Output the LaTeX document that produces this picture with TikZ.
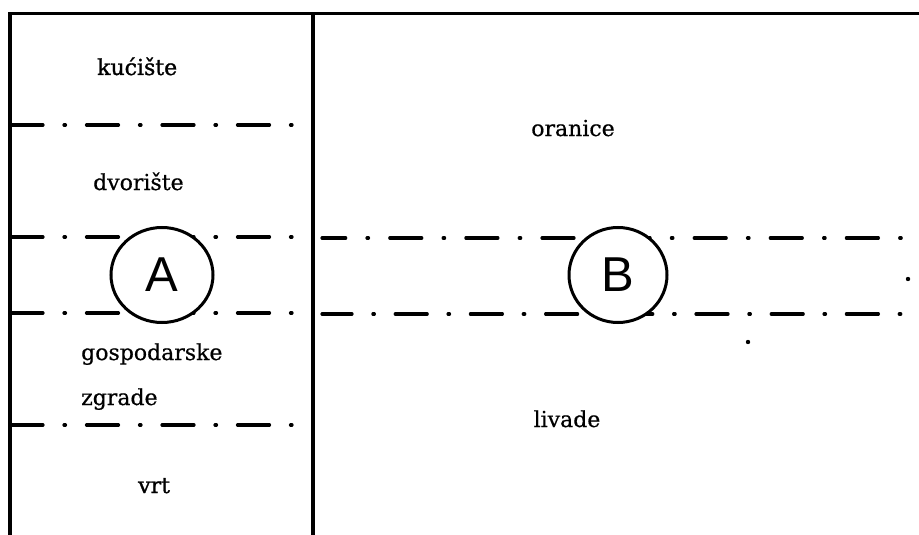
\documentclass[tikz,border=0pt]{standalone}
\usepackage{fontspec}
\setmainfont{DejaVu Serif}
\newfontfamily\lblfont[FakeBold=0.6]{DejaVu Serif}
\newfontfamily\lblheavy[FakeBold=1.3]{DejaVu Serif}
\newfontfamily\letterfont{Liberation Sans}
\usetikzlibrary{shapes.geometric}
\begin{document}
\begin{tikzpicture}[x=1pt,y=-1pt,
  frame/.style={line width=3.4pt},
  zone/.style={line width=3.2pt, line cap=round, dash pattern=on 32pt off 21pt on 1.5pt off 21pt},
  lbl/.style={anchor=base west, inner sep=0pt, font=\lblfont\fontsize{22}{26}\selectfont},
  heavy/.style={font=\lblheavy\fontsize{22}{26}\selectfont},
  ring/.style={draw, ellipse, line width=3pt, fill=white, inner sep=0pt,
    font=\letterfont\fontsize{49}{50}\selectfont}]
\useasboundingbox (0,0) rectangle (919,535);
% frame
\draw[frame] (10,535) -- (10,13.5) -- (919,13.5);
\draw[frame] (313,13.5) -- (313,535);
% zone borders, left column
\draw[zone] (11,125) -- (294,125);
\draw[zone] (11,237) -- (294,237);
\draw[zone] (11,313) -- (294,313);
\draw[zone] (11,425) -- (294,425);
% zone borders, right part
\draw[zone, dash pattern=on 32pt off 21.3pt on 1.5pt off 21.3pt, dash phase=8.3pt] (322,238) -- (906,238);
\draw[zone, dash pattern=on 32pt off 20.85pt on 1.5pt off 20.85pt, dash phase=2pt] (322,314) -- (906,314);
% stray dots
\fill (908,279) circle (2.2pt);
\fill (748,342) circle (2.2pt);
% circles
\node[ring, minimum width=102pt, minimum height=95pt] (A) at (162,275) {A};
\node[ring, minimum width=98pt, minimum height=95pt] (B) at (618,275) {B};
% labels
\node[lbl, heavy] (kuciste) at (97,75) {kućište};
\node[lbl] (dvoriste) at (93,190) {dvorište};
\node[lbl] (gosp) at (81,360) {gospodarske};
\node[lbl] (zgrade) at (81,405) {zgrade};
\node[lbl, heavy] (vrt) at (138,493) {vrt};
\node[lbl, anchor=base] (oranice) at (573,136) {oranice};
\node[lbl, anchor=base] (livade) at (567,427) {livade};
\end{tikzpicture}
\end{document}
